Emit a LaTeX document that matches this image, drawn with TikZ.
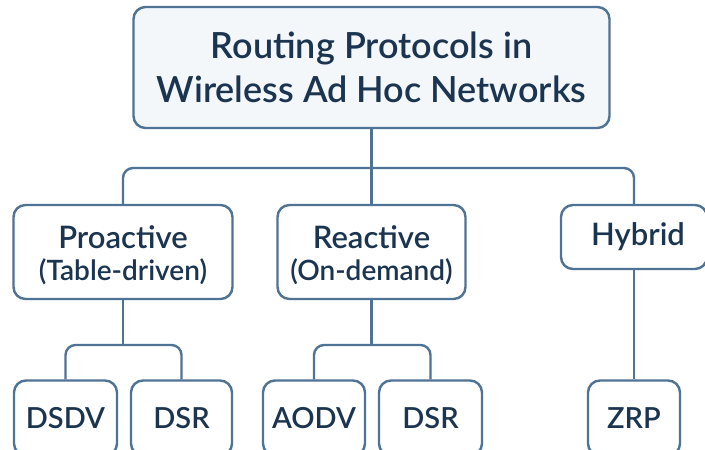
\documentclass[tikz,border=0pt]{standalone}
\usepackage{fontspec}
\setmainfont{Lato Semibold}
\definecolor{edge}{HTML}{4F7394}
\definecolor{ink}{HTML}{1B3550}
\definecolor{headfill}{HTML}{F3F7FA}
\begin{document}
\begin{tikzpicture}[x=1pt,y=-1pt,
  box/.style={draw=edge, line width=2.4pt, rounded corners=12pt, fill=white,
    text=ink, align=center, inner sep=0pt},
  label/.style={text=ink, align=center, inner sep=0pt},
  conn/.style={draw=edge, line width=2.4pt, rounded corners=10pt},
  title/.style={font=\fontsize{36}{44}\selectfont},
  cat/.style={font=\fontsize{31}{35}\selectfont},
  note/.style={font=\fontsize{28}{30}\selectfont},
  leaf/.style={font=\fontsize{29}{30}\selectfont}]
\useasboundingbox (0,0) rectangle (705,450);
\fill[white] (0,0) rectangle (705,450);

% root
\node[box, fill=headfill, minimum width=476pt, minimum height=121pt, title]
  (root) at (371.5,67.5) {Routing Protocols in\\Wireless Ad Hoc Networks};

% categories: boxes first, captions on top
\node[box, minimum width=219pt, minimum height=94pt] (pro) at (123,252) {};
\node[box, minimum width=188pt, minimum height=94pt] (rea) at (371.5,252) {};
\node[box, minimum width=146pt, minimum height=64pt] (hyb) at (634,237) {};
\node[label, cat] (proname) at (123,237) {Proactive};
\node[label, note] (pronote) at (123,272) {(Table-driven)};
\node[label, cat] (reaname) at (371.5,237) {Reactive};
\node[label, note] (reanote) at (371.5,272) {(On-demand)};
\node[label, cat] (hybname) at (638,237) {Hybrid};

% protocols
\node[box, minimum width=103pt, minimum height=75pt, leaf] (dsdv) at (65.5,418) {DSDV};
\node[box, minimum width=101pt, minimum height=75pt, leaf] (dsra) at (181.5,418) {DSR};
\node[box, minimum width=102pt, minimum height=75pt, leaf] (aodv) at (314,418) {AODV};
\node[box, minimum width=103pt, minimum height=75pt, leaf] (dsrb) at (430.5,418) {DSR};
\node[box, minimum width=92pt, minimum height=75pt, leaf] (zrp) at (634,418) {ZRP};

% branch points
\coordinate (bus) at (371.5,168);
\coordinate (pbus) at (123,345);
\coordinate (rbus) at (371.5,345);

% connectors
\draw[conn] (root.south) -- (bus);
\draw[conn] (pro.north) |- (bus) -| (hyb.north);
\draw[conn] (bus) -- (rea.north);
\draw[conn] (pro.south) -- (pbus);
\draw[conn] (dsdv.north) |- (pbus) -| (dsra.north);
\draw[conn] (rea.south) -- (rbus);
\draw[conn] (aodv.north) |- (rbus) -| (dsrb.north);
\draw[conn] (hyb.south) -- (zrp.north);
\end{tikzpicture}
\end{document}
